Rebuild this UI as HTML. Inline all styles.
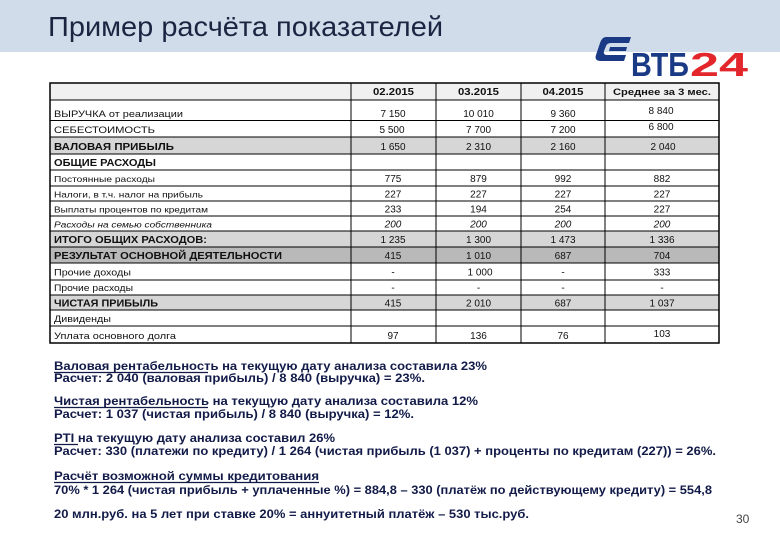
<!DOCTYPE html>
<html><head><meta charset="utf-8">
<style>
html,body{margin:0;padding:0;background:#fff;}
svg{display:block;}
</style></head>
<body>
<svg width="780" height="540" viewBox="0 0 780 540" xmlns="http://www.w3.org/2000/svg" font-family="'Liberation Sans','Noto Sans CJK SC',sans-serif">
<rect x="0" y="0" width="780" height="540" fill="#ffffff"/>
<rect x="0" y="0" width="780" height="52" fill="#d0dcea"/>
<text x="48" y="36" font-size="28" fill="#1b2542" textLength="395" lengthAdjust="spacingAndGlyphs">Пример расчёта показателей</text>

<!-- logo -->
<path d="M606 37 L631 37 L629 43 L611 43 Q607 43 606 46 L604 51 Q603 55 607 55 L626 55 L624 61 L601 61 Q594 61 596 55 L600 43 Q602 37 606 37 Z" fill="#1a3a86"/>
<path d="M610 47 L627 47 L626 51 L609 51 Z" fill="#1a3a86"/>
<text x="631" y="76" font-size="33" font-weight="bold" fill="#1a3a86" textLength="58" lengthAdjust="spacingAndGlyphs">ВТБ</text>
<text x="690" y="76" font-size="33" font-weight="bold" fill="#e2262b" textLength="58" lengthAdjust="spacingAndGlyphs">24</text>

<!-- table backgrounds -->
<rect x="50" y="83" width="669" height="17" fill="#f0f0f0"/>
<rect x="50" y="137" width="669" height="17" fill="#d6d6d6"/>
<rect x="50" y="231" width="669" height="16" fill="#d6d6d6"/>
<rect x="50" y="247" width="669" height="16" fill="#b9b9b9"/>
<rect x="50" y="295" width="669" height="15" fill="#d6d6d6"/>

<!-- table lines -->
<g stroke="#000" stroke-width="1" fill="none">
<line x1="50" y1="100" x2="719" y2="100"/>
<line x1="50" y1="120.5" x2="719" y2="120.5"/>
<line x1="50" y1="137" x2="719" y2="137"/>
<line x1="50" y1="154" x2="719" y2="154"/>
<line x1="50" y1="170" x2="719" y2="170"/>
<line x1="50" y1="186" x2="719" y2="186"/>
<line x1="50" y1="201" x2="719" y2="201"/>
<line x1="50" y1="216" x2="719" y2="216"/>
<line x1="50" y1="231" x2="719" y2="231"/>
<line x1="50" y1="247" x2="719" y2="247"/>
<line x1="50" y1="263" x2="719" y2="263"/>
<line x1="50" y1="280" x2="719" y2="280"/>
<line x1="50" y1="295" x2="719" y2="295"/>
<line x1="50" y1="310" x2="719" y2="310"/>
<line x1="50" y1="326" x2="719" y2="326"/>
<line x1="351" y1="83" x2="351" y2="343"/>
<line x1="436" y1="83" x2="436" y2="343"/>
<line x1="521" y1="83" x2="521" y2="343"/>
<line x1="605" y1="83" x2="605" y2="343"/>
<rect x="50" y="83" width="669" height="260" stroke-width="1.5"/>
</g>

<!-- header -->
<g font-size="10" font-weight="bold" fill="#111" text-anchor="middle">
<text x="393.5" y="95" textLength="41" lengthAdjust="spacingAndGlyphs">02.2015</text>
<text x="478.5" y="95" textLength="41" lengthAdjust="spacingAndGlyphs">03.2015</text>
<text x="563" y="95" textLength="41" lengthAdjust="spacingAndGlyphs">04.2015</text>
<text x="662" y="95" font-size="9" textLength="98" lengthAdjust="spacingAndGlyphs">Среднее за 3 мес.</text>
</g>

<!-- labels -->
<g fill="#111" font-size="9.5">
<text x="54" y="117" textLength="129" lengthAdjust="spacingAndGlyphs">ВЫРУЧКА от реализации</text>
<text x="54" y="133" textLength="101" lengthAdjust="spacingAndGlyphs">СЕБЕСТОИМОСТЬ</text>
<text x="54" y="150" font-weight="bold" font-size="10.5" textLength="120" lengthAdjust="spacingAndGlyphs">ВАЛОВАЯ ПРИБЫЛЬ</text>
<text x="54" y="166" font-weight="bold" font-size="10.5" textLength="102" lengthAdjust="spacingAndGlyphs">ОБЩИЕ РАСХОДЫ</text>
<text x="54" y="182" font-size="8.5" textLength="101" lengthAdjust="spacingAndGlyphs">Постоянные расходы</text>
<text x="54" y="197.5" font-size="8.5" textLength="149" lengthAdjust="spacingAndGlyphs">Налоги, в т.ч. налог на прибыль</text>
<text x="54" y="212.5" font-size="8.5" textLength="154" lengthAdjust="spacingAndGlyphs">Выплаты процентов по кредитам</text>
<text x="54" y="227.5" font-size="8.5" font-style="italic" textLength="158" lengthAdjust="spacingAndGlyphs">Расходы на семью собственника</text>
<text x="54" y="243" font-weight="bold" font-size="10.5" textLength="153" lengthAdjust="spacingAndGlyphs">ИТОГО ОБЩИХ РАСХОДОВ:</text>
<text x="54" y="259" font-weight="bold" font-size="10.5" textLength="228" lengthAdjust="spacingAndGlyphs">РЕЗУЛЬТАТ ОСНОВНОЙ ДЕЯТЕЛЬНОСТИ</text>
<text x="54" y="275.5" textLength="77" lengthAdjust="spacingAndGlyphs">Прочие доходы</text>
<text x="54" y="291" textLength="79" lengthAdjust="spacingAndGlyphs">Прочие расходы</text>
<text x="54" y="306.5" font-weight="bold" font-size="10.5" textLength="104" lengthAdjust="spacingAndGlyphs">ЧИСТАЯ ПРИБЫЛЬ</text>
<text x="54" y="322" textLength="57" lengthAdjust="spacingAndGlyphs">Дивиденды</text>
<text x="54" y="339" textLength="122" lengthAdjust="spacingAndGlyphs">Уплата основного долга</text>
</g>

<!-- numbers -->
<g fill="#111" font-size="10" text-anchor="middle">
<text x="393" y="117">7 150</text><text x="478.5" y="117">10 010</text><text x="563" y="117">9 360</text><text x="661" y="114">8 840</text>
<text x="392" y="133">5 500</text><text x="478.5" y="133">7 700</text><text x="563" y="133">7 200</text><text x="661" y="130">6 800</text>
<text x="393" y="150">1 650</text><text x="478.5" y="150">2 310</text><text x="563" y="150">2 160</text><text x="663" y="150">2 040</text>
<text x="393" y="182">775</text><text x="478.5" y="182">879</text><text x="563" y="182">992</text><text x="662" y="182">882</text>
<text x="393" y="197.5">227</text><text x="478.5" y="197.5">227</text><text x="563" y="197.5">227</text><text x="662" y="197.5">227</text>
<text x="393" y="212.5">233</text><text x="478.5" y="212.5">194</text><text x="563" y="212.5">254</text><text x="662" y="212.5">227</text>
<g font-style="italic"><text x="393" y="227.5">200</text><text x="478.5" y="227.5">200</text><text x="563" y="227.5">200</text><text x="662" y="227.5">200</text></g>
<text x="393" y="243">1 235</text><text x="478.5" y="243">1 300</text><text x="563" y="243">1 473</text><text x="662" y="243">1 336</text>
<text x="393" y="259">415</text><text x="478.5" y="259">1 010</text><text x="563" y="259">687</text><text x="662" y="259">704</text>
<text x="393" y="275.5">-</text><text x="480" y="275.5">1 000</text><text x="563" y="275.5">-</text><text x="662" y="275.5">333</text>
<text x="393" y="291">-</text><text x="478.5" y="291">-</text><text x="563" y="291">-</text><text x="662" y="291">-</text>
<text x="393" y="306.5">415</text><text x="478.5" y="306.5">2 010</text><text x="563" y="306.5">687</text><text x="662" y="306.5">1 037</text>
<text x="393" y="339">97</text><text x="478.5" y="339">136</text><text x="563" y="339">76</text><text x="662" y="337">103</text>
</g>

<!-- lower text -->
<g fill="#121a48" font-size="12" font-weight="bold">
<text x="54" y="370" textLength="433" lengthAdjust="spacingAndGlyphs">Валовая рентабельность на текущую дату анализа составила 23%</text>
<text x="54" y="382" textLength="371" lengthAdjust="spacingAndGlyphs">Расчет: 2 040 (валовая прибыль) / 8 840 (выручка) = 23%.</text>
<text x="54" y="405" textLength="424" lengthAdjust="spacingAndGlyphs">Чистая рентабельность на текущую дату анализа составила 12%</text>
<text x="54" y="418" textLength="360" lengthAdjust="spacingAndGlyphs">Расчет: 1 037 (чистая прибыль) / 8 840 (выручка) = 12%.</text>
<text x="54" y="442" textLength="281" lengthAdjust="spacingAndGlyphs">PTI на текущую дату анализа составил 26%</text>
<text x="54" y="455" textLength="662" lengthAdjust="spacingAndGlyphs">Расчет: 330 (платежи по кредиту) / 1 264 (чистая прибыль (1 037) + проценты по кредитам (227)) = 26%.</text>
<text x="54" y="480" textLength="265" lengthAdjust="spacingAndGlyphs">Расчёт возможной суммы кредитования</text>
<text x="54" y="494" textLength="658" lengthAdjust="spacingAndGlyphs">70% * 1 264 (чистая прибыль + уплаченные %) = 884,8 – 330 (платёж по действующему кредиту) = 554,8</text>
<text x="54" y="518" textLength="475" lengthAdjust="spacingAndGlyphs">20 млн.руб. на 5 лет при ставке 20% = аннуитетный платёж – 530 тыс.руб.</text>
</g>
<g stroke="#121a48" stroke-width="1.2">
<line x1="54" y1="372.5" x2="208" y2="372.5"/>
<line x1="54" y1="407.5" x2="208" y2="407.5"/>
<line x1="54" y1="444.5" x2="78" y2="444.5"/>
<line x1="54" y1="482.5" x2="319" y2="482.5"/>
</g>
<text x="736" y="523" font-size="12" fill="#444">30</text>
</svg>
</body></html>
